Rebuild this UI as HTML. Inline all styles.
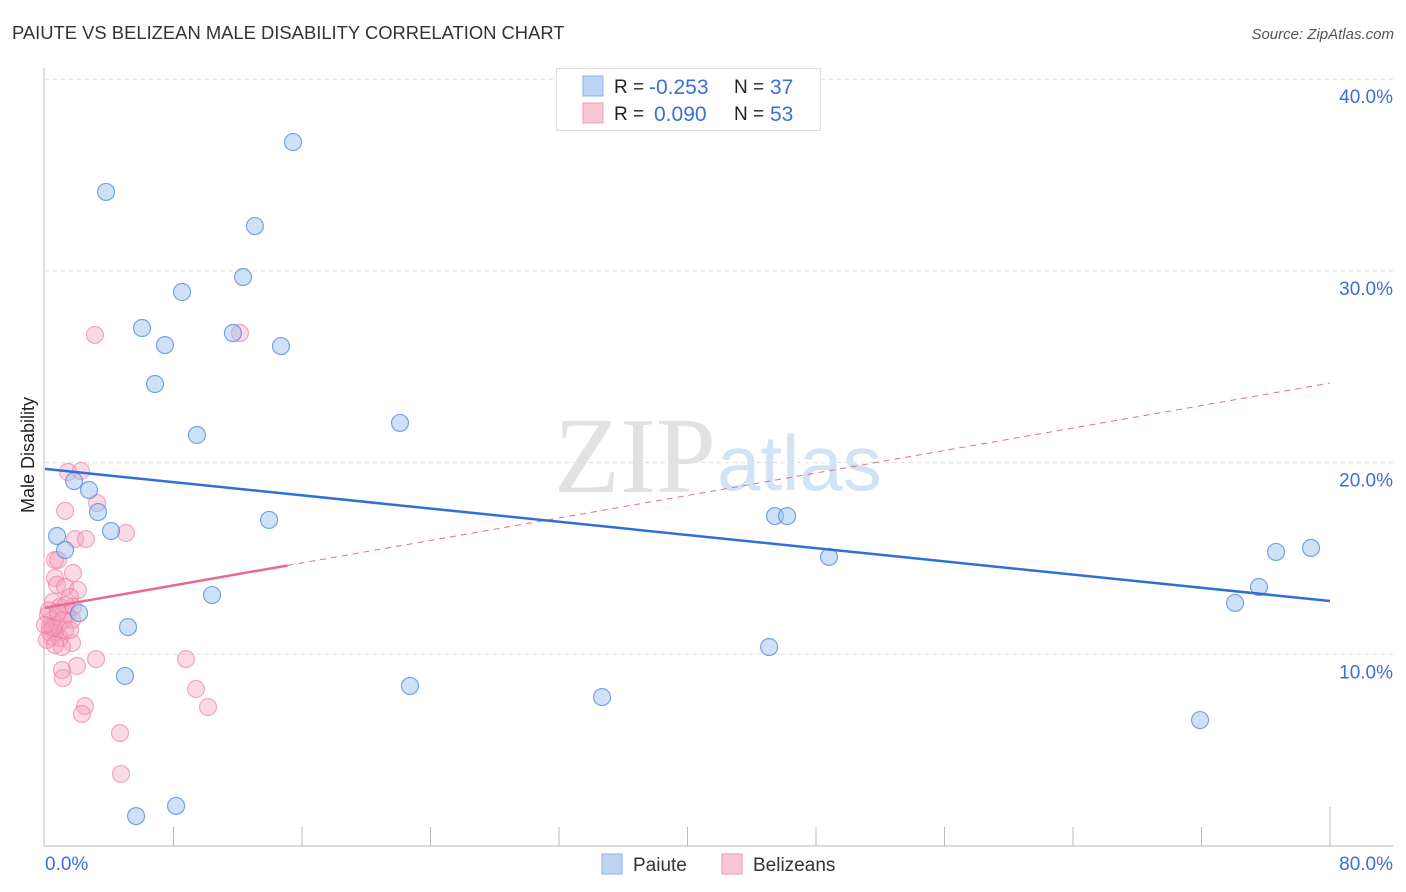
<!DOCTYPE html>
<html><head><meta charset="utf-8"><style>
body{margin:0;background:#fff;font-family:"Liberation Sans",sans-serif;}
svg{display:block}
</style></head><body>
<svg id="chart" width="1406" height="892">
<text x="12" y="39" font-size="18.4" fill="#333">PAIUTE VS BELIZEAN MALE DISABILITY CORRELATION CHART</text>
<text x="1394" y="39" font-size="15" fill="#555" font-style="italic" text-anchor="end">Source: ZipAtlas.com</text>
<text x="0" y="0" transform="translate(34,455) rotate(-90)" font-size="18" fill="#222" text-anchor="middle">Male Disability</text>
<g id="grid"></g>
<text x="716" y="492" font-size="108" font-family="Liberation Serif,serif" fill="#e2e2e2" text-anchor="end">ZIP</text>
<text x="717" y="490" font-size="78" fill="#d3e3f6">atlas</text>
<g id="marks"></g>
<g id="legend">
<rect x="556.5" y="68.5" width="264" height="62" fill="#fff" stroke="#ddd"/>
<rect x="583" y="76" width="20" height="20" fill="#bcd5f5" stroke="#8ab0e8"/>
<rect x="583" y="103" width="20" height="20" fill="#f9c6d6" stroke="#f09ab5"/>
<text x="614" y="93" font-size="19" fill="#222">R =</text>
<text x="649" y="94" font-size="21" fill="#3a6fd8">-0.253</text>
<text x="734" y="93" font-size="19" fill="#222">N =</text>
<text x="770" y="94" font-size="21" fill="#3a6fd8">37</text>
<text x="614" y="120" font-size="19" fill="#222">R =</text>
<text x="654" y="121" font-size="21" fill="#3a6fd8">0.090</text>
<text x="734" y="120" font-size="19" fill="#222">N =</text>
<text x="770" y="121" font-size="21" fill="#3a6fd8">53</text>
</g>
<g>
<rect x="602" y="854" width="20" height="20" fill="#bcd5f5" stroke="#8ab0e8"/>
<text x="633" y="871" font-size="19" fill="#333">Paiute</text>
<rect x="722" y="854" width="20" height="20" fill="#f9c6d6" stroke="#f09ab5"/>
<text x="753" y="871" font-size="19" fill="#333">Belizeans</text>
</g>
</svg>
<script>
const yTicks=[10,20,30,40];
const xTickLabels=["0.0%","80.0%"];
const paiuteX=[15.44,3.80,13.07,12.33,8.53,6.04,7.47,11.70,14.69,6.85,9.46,22.10,1.81,2.74,3.30,13.95,4.11,0.75,1.25,10.40,2.12,5.17,4.98,22.72,34.68,45.08,45.45,46.20,48.81,71.91,74.09,75.58,76.64,78.82,5.67,8.16];
const paiuteY=[36.72,34.12,32.34,29.68,28.90,27.02,26.13,26.76,26.08,24.10,21.44,22.07,19.04,18.57,17.42,17.01,16.43,16.17,15.44,13.09,12.15,11.42,8.87,8.35,7.77,10.38,17.21,17.21,15.08,6.57,12.68,13.51,15.34,15.55,1.56,2.09];
const belizeX=[1.43,2.24,3.24,1.25,1.87,2.55,5.04,0.62,0.81,1.74,0.62,0.75,1.25,2.05,1.56,0.50,0.93,1.74,1.37,1.68,0.44,0.31,0.62,0.44,0.93,1.68,1.06,3.18,1.99,1.06,1.12,8.78,9.40,10.15,2.49,2.30,4.67,4.73,3.11,12.14,0.19,0.31,0.81,0.12,1.25,0.62,1.12,0.25,0.5,1.31,0.81,1.56,0.0];
const belizeY=[19.51,19.56,17.89,17.48,16.01,16.01,16.33,14.92,14.92,14.24,13.98,13.62,13.51,13.35,12.99,12.73,12.47,12.47,12.05,11.79,11.79,11.42,11.16,10.90,10.85,10.59,10.38,9.75,9.39,9.18,8.76,9.75,8.19,7.25,7.30,6.89,5.89,3.76,26.66,26.76,12.05,11.16,11.53,10.75,11.27,10.49,11.79,12.3,11.4,12.57,12.2,11.27,11.53];
const paiuteTrend=[19.67,12.78];
const belizeTrend=[12.42,24.15];
const belizeSolidEnd=15.1;
const NS="http://www.w3.org/2000/svg";
const X=v=>45+v/80*1285, Y=v=>846-v*19.17;
function mk(t,a,p){const e=document.createElementNS(NS,t);for(const k in a)e.setAttribute(k,a[k]);(p||document.getElementById('marks')).appendChild(e);return e;}
const g=document.getElementById('grid');
yTicks.forEach(t=>{
 const l=mk('line',{x1:45,x2:1393,y1:Y(t),y2:Y(t),stroke:'#ddd','stroke-dasharray':'4,4'},g);
 
 
 const tx=mk('text',{x:1393,y:Y(t)+24,'font-size':19,fill:'#3a6fd8','text-anchor':'end'},g);
 tx.textContent=t.toFixed(1)+'%';
 
 
});
const ax=mk('line',{x1:44,x2:44,y1:68,y2:846,stroke:'#bbb'},g);


const bx=mk('line',{x1:44,x2:1393,y1:846,y2:846,stroke:'#bbb'},g);


for(let i=1;i<=10;i++){
 const t=mk('line',{x1:X(i*8),x2:X(i*8),y1:i==10?807:827,y2:846,stroke:'#bbb'},g);
 
 
}
const xl0=mk('text',{x:45,y:870,'font-size':19,fill:'#3a6fd8'},g);xl0.textContent=xTickLabels[0];


const xl1=mk('text',{x:1393,y:870,'font-size':19,fill:'#3a6fd8','text-anchor':'end'},g);xl1.textContent=xTickLabels[1];


belizeX.forEach((v,i)=>{
 const c=mk('circle',{cx:X(v),cy:Y(belizeY[i]),r:8.5,fill:'rgba(246,160,190,0.4)',stroke:'rgba(236,120,160,0.6)','stroke-width':1.2});
 
 
});
paiuteX.forEach((v,i)=>{
 const c=mk('circle',{cx:X(v),cy:Y(paiuteY[i]),r:8.5,fill:'rgba(160,196,240,0.5)',stroke:'rgba(70,130,220,0.7)','stroke-width':1.2});
 
 
});
const bl=t=>belizeTrend[0]+(belizeTrend[1]-belizeTrend[0])*t/80;
const pd=mk('line',{x1:X(belizeSolidEnd),y1:Y(bl(belizeSolidEnd)),x2:X(80),y2:Y(belizeTrend[1]),stroke:'#e86a93','stroke-width':1,'stroke-dasharray':'6,5'});


const ps=mk('line',{x1:X(0),y1:Y(belizeTrend[0]),x2:X(belizeSolidEnd),y2:Y(bl(belizeSolidEnd)),stroke:'#e86a93','stroke-width':2.5});


const bt=mk('line',{x1:X(0),y1:Y(paiuteTrend[0]),x2:X(80),y2:Y(paiuteTrend[1]),stroke:'#2f6fd6','stroke-width':2.5});


</script>
</body></html>
